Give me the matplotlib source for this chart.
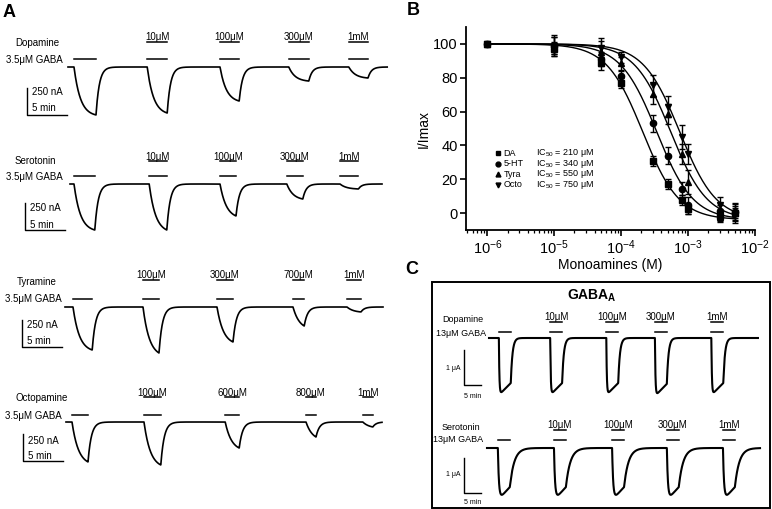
import numpy as np
import matplotlib.pyplot as plt
from matplotlib.patches import Rectangle

plt.rcParams['font.family'] = ['Liberation Sans', 'DejaVu Sans']
plt.rcParams['mathtext.fontset'] = 'custom'
plt.rcParams['mathtext.rm'] = 'Liberation Sans'
plt.rcParams['mathtext.it'] = 'Liberation Sans:italic'
plt.rcParams['mathtext.bf'] = 'Liberation Sans:bold'

# ---- panel A : oocyte currents, 3.5 uM GABA + monoamine (time in min, current in nA)
a_names = ["Dopamine", "Serotonin", "Tyramine", "Octopamine"]
a_gaba = "3.5\u03bcM GABA"
da_labels = ["", "10\u03bcM", "100\u03bcM", "300\u03bcM", "1mM"]
da_on = [0.75, 9.9, 19.0, 27.6, 35.1]
da_dur = [2.75, 2.5, 2.4, 2.5, 2.4]
da_amp = [444, 426, 315, 130, 102]
da_end = 39.9

ht_labels = ["", "10\u03bcM", "100\u03bcM", "300\u03bcM", "1mM"]
ht_on = [0.5, 9.9, 18.75, 27.1, 33.75]
ht_dur = [2.6, 2.2, 2.0, 2.0, 2.3]
ht_amp = [426, 426, 296, 139, 46]
ht_end = 39.0

ty_labels = ["", "100\u03bcM", "300\u03bcM", "700\u03bcM", "1mM"]
ty_on = [1.0, 9.75, 19.0, 28.5, 35.25]
ty_dur = [2.4, 2.0, 2.0, 1.4, 1.75]
ty_amp = [398, 426, 324, 176, 46]
ty_end = 39.75

oc_labels = ["", "100\u03bcM", "600\u03bcM", "800\u03bcM", "1mM"]
oc_on = [0.75, 9.75, 19.9, 30.0, 37.1]
oc_dur = [2.0, 2.1, 1.75, 1.25, 1.25]
oc_amp = [370, 398, 241, 139, 46]
oc_end = 39.5

# ---- panel B : concentration-response (M, % of max)
conc = [1e-6, 1e-5, 5e-5, 1e-4, 3e-4, 5e-4, 8e-4, 1e-3, 3e-3, 5e-3]
da_mean = [100, 97, 88.5, 77, 31, 17, 7.5, 2.5, -1.5, 0]
da_err = [1, 4, 4, 3, 3, 3, 3, 3, 3, 3]
ht_mean = [100, 99, 91, 81, 53, 34, 14.5, 4.5, 1, 0.5]
ht_err = [1, 5, 4, 3, 5, 5, 4, 5, 4, 5]
ty_mean = [100, 99, 95.5, 88.5, 70.5, 58.5, 35, 18.5, -2.5, 0]
ty_err = [1, 5, 6, 4, 6, 6, 6, 7, 3, 4]
oc_mean = [100, 99, 97.5, 92, 75.5, 63, 45, 35, 4.5, 0]
oc_err = [1, 6, 6, 3, 6, 6, 7, 6, 5, 6]
b_names = ["DA", "5-HT", "Tyra", "Octo"]
ic50_uM = [210, 340, 550, 750]
hill_n = 1.6
fit_bottom = -4

# ---- panel C : GABA_A receptor currents, 13 uM GABA (time in min, current in uA)
c_names = ["Dopamine", "Serotonin"]
c_gaba = "13\u03bcM GABA"
c_labels = ["", "10\u03bcM", "100\u03bcM", "300\u03bcM", "1mM"]
cda_on = [2.9, 18.0, 34.5, 48.8, 65.4]
cda_amp = [1.63, 1.63, 1.63, 1.66, 1.63]
cda_end = 79.1
cht_on = [3.2, 19.7, 36.8, 52.9, 69.4]
cht_amp = [1.49, 1.49, 1.49, 1.49, 1.49]
cht_end = 80.3

W, H = 772, 509
fig = plt.figure(figsize=(W / 100, H / 100), dpi=100)

ov = fig.add_axes([0, 0, 1, 1])
ov.set_xlim(0, W)
ov.set_ylim(H, 0)
ov.set_axis_off()


def trace(t, on, dur, amp, ton, toff, sag):
    y = np.zeros_like(t)
    for t0, d, a in zip(on, dur, amp):
        s = t - t0
        g = (1 - np.exp(-np.clip(s, 0, None) / ton)) / (1 - np.exp(-d / ton))
        inside = (s >= 0) & (s <= d)
        y[inside] += (-a * g * (1 - sag * s / d))[inside]
        after = s > d
        y[after] += -a * (1 - sag) * np.exp(-(s[after] - d) / toff)
    return y


def row_axes(x0, base, ppm, ppu):
    ax = fig.add_axes([0, 0, 1, 1])
    ax.set_xlim(-x0 / ppm, (W - x0) / ppm)
    ax.set_ylim(-(H - base) / ppu, base / ppu)
    ax.set_axis_off()
    return ax


def draw_row(lay, name, gaba, labels, on, dur, amp, t_end, ppm, ppu,
             ton, toff, sag, lw, sb_t, sb_i, sb_txt, fs_name, fs_sb):
    ax = row_axes(lay['x0'], lay['base'], ppm, ppu)
    t = np.linspace(0, t_end, 3000)
    ax.plot(t, trace(t, on, dur, amp, ton, toff, sag), color='black', lw=lw,
            solid_joinstyle='round')
    for t0, d, lab in zip(on, dur, labels):
        ax.plot([t0, t0 + d], [lay['gaba_dy'] / ppu] * 2, color='black', lw=1.1)
        if lab:
            ax.plot([t0, t0 + d], [lay['mono_dy'] / ppu] * 2, color='black', lw=1.1)
            ax.text(t0 + d / 2, (lay['mono_dy'] + 1.5) / ppu, lab, ha='center',
                    va='baseline', fontsize=7)
    tc = (lay['sb'][0] - lay['x0']) / ppm
    ic = -(lay['sb'][1] - lay['base']) / ppu
    ax.plot([tc, tc, tc + sb_t], [ic + sb_i, ic, ic], color='black', lw=1.0)
    ov.text(lay['name'][0], lay['name'][1], name, ha='left', va='center', fontsize=fs_name)
    ov.text(lay['gl'][0], lay['gl'][1], gaba, ha='left', va='center', fontsize=fs_name)
    ov.text(*lay['sbt1'], sb_txt[0], ha=lay['sbha'][0], va='center', fontsize=fs_sb)
    ov.text(*lay['sbt2'], sb_txt[1], ha=lay['sbha'][1], va='center', fontsize=fs_sb)


a_layout = [
    dict(x0=68, base=67, gaba_dy=8, mono_dy=25, name=(15, 43), gl=(6, 60), sb=(27, 115),
         sbt1=(32, 92), sbt2=(32, 108), sbha=('left', 'left')),
    dict(x0=70, base=184, gaba_dy=8, mono_dy=23, name=(15, 161), gl=(6, 177), sb=(25, 230),
         sbt1=(30, 208), sbt2=(30, 225), sbha=('left', 'left')),
    dict(x0=65, base=307, gaba_dy=8, mono_dy=27, name=(17, 282), gl=(5, 299), sb=(22, 347),
         sbt1=(27, 325), sbt2=(27, 341), sbha=('left', 'left')),
    dict(x0=66, base=422, gaba_dy=7, mono_dy=25, name=(15, 398), gl=(5, 416), sb=(23, 461),
         sbt1=(28, 441), sbt2=(28, 456), sbha=('left', 'left')),
]
a_rows = [(da_labels, da_on, da_dur, da_amp, da_end),
          (ht_labels, ht_on, ht_dur, ht_amp, ht_end),
          (ty_labels, ty_on, ty_dur, ty_amp, ty_end),
          (oc_labels, oc_on, oc_dur, oc_amp, oc_end)]
for lay, nm, (labs, on, dur, amp, te) in zip(a_layout, a_names, a_rows):
    draw_row(lay, nm, a_gaba, labs, on, dur, amp, te, 8.0, 27 / 250,
             0.8, 0.42, 0.0, 1.2, 5, 250, ("250 nA", "5 min"), 7, 7)

c_layout = [
    dict(x0=489, base=338, gaba_dy=6, mono_dy=16, name=(442, 320), gl=(436, 333), sb=(464, 385),
         sbt1=(460, 369), sbt2=(473, 396), sbha=('right', 'center')),
    dict(x0=487, base=448, gaba_dy=8, mono_dy=18, name=(442, 427), gl=(433, 439), sb=(464, 493),
         sbt1=(460, 474), sbt2=(473, 502), sbha=('right', 'center')),
]
draw_row(c_layout[0], c_names[0], c_gaba, c_labels, cda_on, [3.5] * 5, cda_amp, cda_end,
         3.4, 35, 0.15, 0.5, 0.21, 1.5, 5, 1, ("1 \u03bcA", "5 min"), 6.5, 5)
draw_row(c_layout[1], c_names[1], c_gaba, c_labels, cht_on, [3.5] * 5, cht_amp, cht_end,
         3.4, 35, 0.3, 1.3, 0.25, 1.5, 5, 1, ("1 \u03bcA", "5 min"), 6.5, 5)

ov.add_patch(Rectangle((432, 282), 338, 226, fill=False, lw=1.4, ec='black'))
ov.text(592, 296, r'GABA$_\mathbf{A}$', fontsize=10, fontweight='bold', ha='center', va='center')

ov.text(9, 12, 'A', fontsize=13, fontweight='bold', ha='center', va='center')
ov.text(413, 10, 'B', fontsize=13, fontweight='bold', ha='center', va='center')
ov.text(412, 269, 'C', fontsize=13, fontweight='bold', ha='center', va='center')

# ---- panel B axes
axb = fig.add_axes([466 / W, 1 - 230 / H, (755 - 466) / W, (230 - 27) / H])
axb.set_xscale('log')
axb.set_xlim(10 ** -6.32, 1e-2)
axb.set_ylim(-10, 110)
axb.set_yticks([0, 20, 40, 60, 80, 100])
axb.set_xticks([1e-6, 1e-5, 1e-4, 1e-3, 1e-2])
for s in ['top', 'right']:
    axb.spines[s].set_visible(False)
for s in ['left', 'bottom']:
    axb.spines[s].set_linewidth(1.3)
axb.tick_params(which='major', direction='out', length=4, width=1.2, labelsize=10.5, pad=2)
axb.tick_params(which='minor', direction='out', length=2.5, width=0.9)
axb.set_xlabel('Monoamines (M)', fontsize=10, labelpad=1)
axb.set_ylabel('I/Imax', fontsize=10, labelpad=2)

markers = ['s', 'o', '^', 'v']
means = [da_mean, ht_mean, ty_mean, oc_mean]
errs = [da_err, ht_err, ty_err, oc_err]
cfit = np.logspace(-6, np.log10(5e-3), 300)
for mk, m, e, ic in zip(markers, means, errs, ic50_uM):
    yfit = fit_bottom + (100 - fit_bottom) / (1 + (cfit / (ic * 1e-6)) ** hill_n)
    axb.plot(cfit, yfit, color='black', lw=1.0)
    axb.errorbar(conc, m, yerr=e, fmt=mk, color='black', ms=4.5, capsize=2,
                 elinewidth=1, capthick=1)

leg_y = [0.378, 0.326, 0.274, 0.222]
for mk, nm, ic, yy in zip(markers, b_names, ic50_uM, leg_y):
    axb.plot([0.111], [yy], marker=mk, color='black', ms=3.5, transform=axb.transAxes,
             clip_on=False)
    axb.text(0.13, yy, nm, transform=axb.transAxes, fontsize=6.5, va='center')
    axb.text(0.242, yy, 'IC$_{50}$ = %d \u03bcM' % ic, transform=axb.transAxes,
             fontsize=6.5, va='center')

fig.savefig('out.png', dpi=100)
